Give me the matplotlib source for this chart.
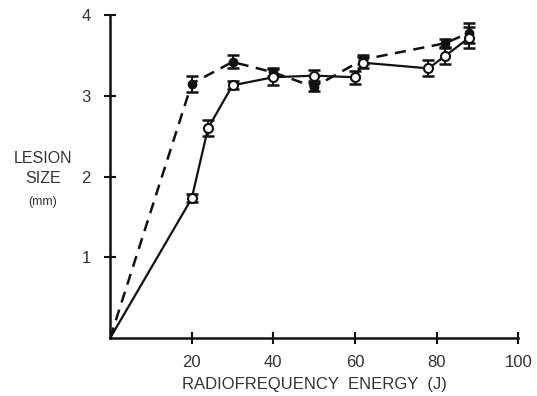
import matplotlib
matplotlib.use("Agg")
import matplotlib.pyplot as plt

plt.rcParams['font.family'] = ['Liberation Sans', 'DejaVu Sans']

# Open circles, solid line
open_x = [0, 20, 24, 30, 40, 50, 60, 62, 78, 82, 88]
open_y = [0, 1.73, 2.60, 3.13, 3.23, 3.25, 3.23, 3.41, 3.34, 3.49, 3.72]
open_err = [0, 0.05, 0.10, 0.05, 0.10, 0.07, 0.08, 0.07, 0.10, 0.10, 0.13]

# Filled circles, dashed line
fill_x = [0, 20, 30, 40, 50, 62, 82, 88]
fill_y = [0, 3.15, 3.42, 3.29, 3.11, 3.45, 3.65, 3.78]
fill_err = [0, 0.10, 0.08, 0.05, 0.05, 0.05, 0.05, 0.12]

xticks = [20, 40, 60, 80, 100]
yticks = [1, 2, 3, 4]

fig = plt.figure(figsize=(5.37, 3.96), dpi=100)
ax = fig.add_axes([0.205, 0.146, 0.76, 0.816])

ax.errorbar(fill_x[1:], fill_y[1:], yerr=fill_err[1:], fmt='none', ecolor='#111',
            elinewidth=1.5, capsize=4, capthick=1.8, zorder=2)
ax.plot(fill_x, fill_y, linestyle=(0, (4.5, 3)), color='#111', linewidth=1.8, zorder=2)
ax.plot(fill_x[1:], fill_y[1:], linestyle='none', marker='o', markersize=6,
        markerfacecolor='#111', markeredgecolor='#111', zorder=3)

ax.errorbar(open_x[1:], open_y[1:], yerr=open_err[1:], fmt='none', ecolor='#111',
            elinewidth=1.5, capsize=4, capthick=1.8, zorder=4)
ax.plot(open_x, open_y, linestyle='-', color='#111', linewidth=1.6, zorder=4)
ax.plot(open_x[1:], open_y[1:], linestyle='none', marker='o', markersize=6.5,
        markerfacecolor='white', markeredgecolor='#111', markeredgewidth=1.5, zorder=5)

ax.set_xlim(0, 100)
ax.set_ylim(0, 4)
ax.set_xticks(xticks)
ax.set_yticks(yticks)
ax.set_xticklabels([str(t) for t in xticks])
ax.set_yticklabels([str(t) for t in yticks])
for s in ['top', 'right']:
    ax.spines[s].set_visible(False)
for s in ['left', 'bottom']:
    ax.spines[s].set_linewidth(1.8)
    ax.spines[s].set_color('#111')
ax.tick_params(direction='inout', length=8, width=1.5, colors='#111',
               labelsize=12, labelcolor='#333', pad=8)
ax.tick_params(axis='y', pad=10)

ax.set_xlabel('RADIOFREQUENCY  ENERGY  (J)', fontsize=12, color='#333', labelpad=5)
fig.text(0.08, 0.601, 'LESION', fontsize=11.5, color='#333', ha='center', va='center')
fig.text(0.08, 0.548, 'SIZE', fontsize=11.5, color='#333', ha='center', va='center')
fig.text(0.08, 0.49, '(mm)', fontsize=9, color='#333', ha='center', va='center')

fig.savefig('out.png', dpi=100)
